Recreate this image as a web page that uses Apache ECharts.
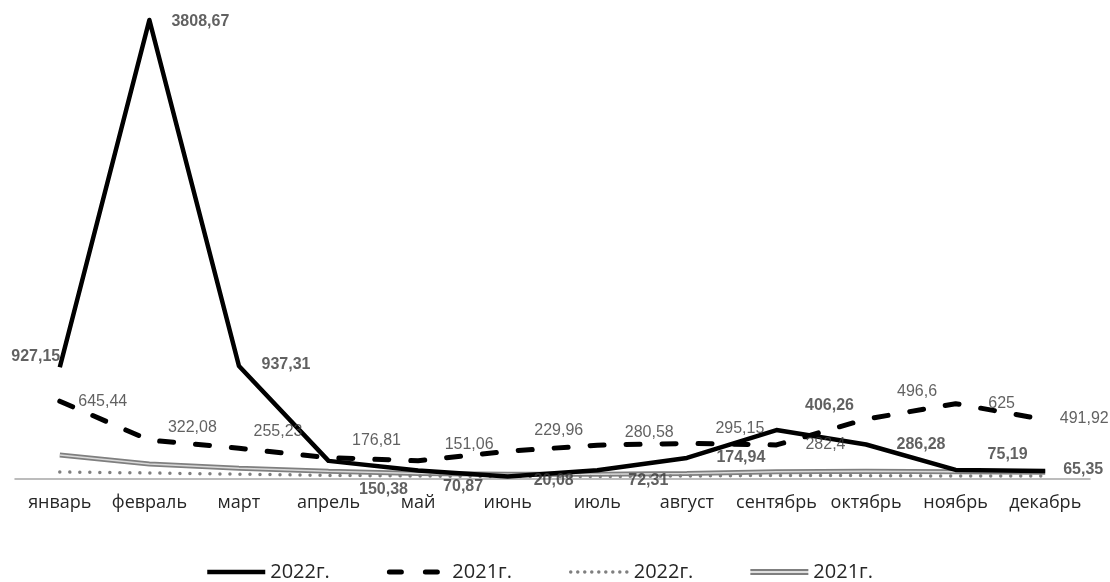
<!DOCTYPE html>
<html>
<head>
<meta charset="utf-8">
<script src="https://cdn.jsdelivr.net/npm/echarts@6/dist/echarts.min.js"></script>
<style>
  html, body { margin: 0; padding: 0; background: #fff; }
  #chart { width: 1110px; height: 582px; }
</style>
</head>
<body>
<div id="chart"></div>
<script>
// Months along the category axis
const months = ['январь', 'февраль', 'март', 'апрель', 'май', 'июнь',
                'июль', 'август', 'сентябрь', 'октябрь', 'ноябрь', 'декабрь'];

// Labelled series
const solid2022 = [927.15, 3808.67, 937.31, 150.38, 70.87, 20.08, 72.31, 174.94, 406.26, 286.28, 75.19, 65.35];
const dashed2021 = [645.44, 322.08, 255.23, 176.81, 151.06, 229.96, 280.58, 295.15, 282.4, 496.6, 625, 491.92];

// Unlabelled series near the baseline
const dotted2022 = [58, 50, 40, 30, 25, 20, 20, 25, 30, 28, 25, 25];
const double2021 = [200, 125, 90, 65, 45, 40, 40, 45, 60, 65, 60, 55];

// Legend captions
const legendNames = ['2022г.', '2021г.', '2022г.', '2021г.'];

// Label placement relative to each point (dx, dy), in pixels
const solidLabelShift = [[-24, -11], [51, 2], [47, -1], [55, 29], [45, 16], [46, 4],
                         [51, 10], [54, 0], [53, -24], [55, 0], [52, -15], [38, -2]];
const dashedLabelShift = [[43, 0], [43, -13], [39, -17], [48, -17], [51, -16], [51, -21],
                          [52, -13], [53, -15], [49, 0], [51, -28], [46, 0], [39, -1]];

const fmt = v => String(v).replace('.', ',');
const seriesKey = i => legendNames[i] + ' #' + (i + 1);

function labelCarrier(values, shifts, bold) {
  return {
    type: 'scatter',
    symbol: 'circle',
    symbolSize: 1,
    itemStyle: { color: 'rgba(0,0,0,0)' },
    silent: true,
    z: 5,
    data: values.map((v, i) => ({
      value: v,
      label: { offset: shifts[i] }
    })),
    label: {
      show: true,
      position: 'inside',
      align: 'center',
      verticalAlign: 'middle',
      fontFamily: 'Liberation Sans, Arial, sans-serif',
      fontSize: 16,
      fontWeight: bold ? 'bold' : 'normal',
      color: '#3a3a3a',
      formatter: p => fmt(p.value)
    }
  };
}

const chart = echarts.init(document.getElementById('chart'), null, { renderer: 'canvas' });

chart.setOption({
  animation: false,
  backgroundColor: '#ffffff',
  grid: { left: 15, right: 20, top: 9, bottom: 103 },
  xAxis: {
    type: 'category',
    data: months,
    boundaryGap: true,
    axisTick: { show: false },
    axisLine: { lineStyle: { color: '#a6a6a6', width: 1.5 } },
    axisLabel: {
      margin: 15,
      color: '#262626',
      fontFamily: 'Open Sans, sans-serif',
      fontSize: 18,
      interval: 0
    }
  },
  yAxis: {
    type: 'value',
    min: 0,
    max: 3900,
    show: false,
    splitLine: { show: false }
  },
  legend: {
    left: 200,
    top: 557,
    itemWidth: 58,
    itemHeight: 6,
    itemGap: 57,
    itemStyle: { opacity: 0 },
    data: [
      { name: seriesKey(0), lineStyle: { width: 4.5 } },
      { name: seriesKey(1), lineStyle: { width: 5, type: [12, 24], cap: 'round' } },
      { name: seriesKey(2), lineStyle: { width: 3.5, type: [0.01, 7], cap: 'round' } },
      { name: seriesKey(3), icon: 'path://M0,0H60V2.2H0Z M0,3.8H60V6H0Z', itemStyle: { opacity: 1 } }
    ],
    formatter: name => name.split(' #')[0],
    textStyle: {
      fontFamily: 'Open Sans, sans-serif',
      fontSize: 20,
      color: '#262626'
    }
  },
  series: [
    {
      name: seriesKey(3),
      type: 'line',
      data: double2021,
      symbol: 'none',
      color: '#7f7f7f',
      lineStyle: { color: '#7f7f7f', width: 5 },
      z: 1
    },
    {
      // light core of the double line
      name: seriesKey(3),
      type: 'line',
      data: double2021,
      symbol: 'none',
      lineStyle: { color: '#d9d9d9', width: 1.5 },
      z: 1
    },
    {
      name: seriesKey(2),
      type: 'line',
      data: dotted2022,
      symbol: 'none',
      color: '#7f7f7f',
      lineStyle: { color: '#7f7f7f', width: 3.5, type: [0.01, 10], cap: 'round' },
      z: 2
    },
    {
      name: seriesKey(0),
      type: 'line',
      data: solid2022,
      symbol: 'none',
      color: '#000000',
      lineStyle: { color: '#000000', width: 4.5, join: 'round' },
      z: 3
    },
    {
      name: seriesKey(1),
      type: 'line',
      data: dashed2021,
      symbol: 'none',
      color: '#000000',
      lineStyle: { color: '#000000', width: 5, type: [14, 22], cap: 'round' },
      z: 4
    },
    labelCarrier(solid2022, solidLabelShift, true),
    labelCarrier(dashed2021, dashedLabelShift, false)
  ]
});
</script>
</body>
</html>
